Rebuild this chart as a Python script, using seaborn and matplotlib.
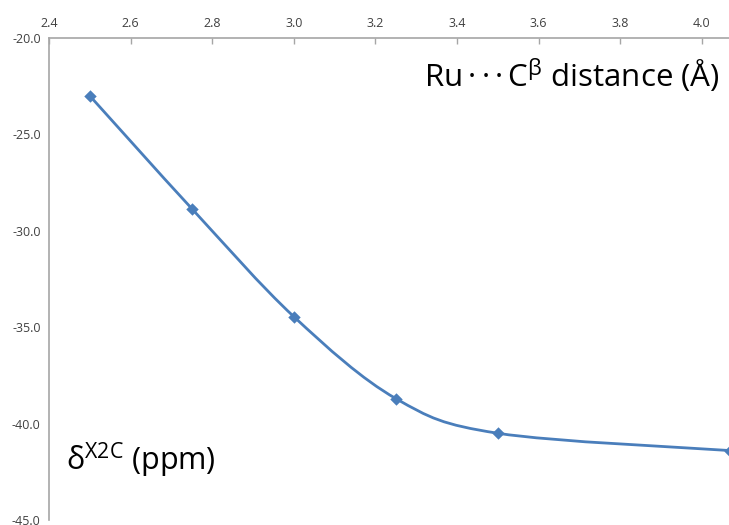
import numpy as np
import matplotlib
matplotlib.use("Agg")
import matplotlib.pyplot as plt
from matplotlib.path import Path
from matplotlib.patches import PathPatch
import seaborn as sns

# distance Ru...C(beta) in Angstrom and the shift in ppm
distance = [2.5, 2.75, 3.0, 3.25, 3.5, 4.07]
shift = [-23.0, -28.85, -34.45, -38.7, -40.5, -41.4]
x_ticks = [2.4, 2.6, 2.8, 3.0, 3.2, 3.4, 3.6, 3.8, 4.0]
y_ticks = [-20.0, -25.0, -30.0, -35.0, -40.0, -45.0]

blue = "#4a7ebb"
axis_grey = "#a6a6a6"
label_grey = "#404040"

sns.set_style("white")
plt.rcParams["font.family"] = ["Open Sans", "DejaVu Sans"]
plt.rcParams["mathtext.fontset"] = "custom"
plt.rcParams["mathtext.rm"] = "Open Sans"

fig = plt.figure(figsize=(7.29, 5.25), dpi=100)
ax = fig.add_axes([49 / 729, 1 - 520 / 525, 680 / 729, (520 - 38) / 525])


# smooth line like the excel "smoothed line" option (catmull-rom -> bezier)
def smooth_path(xs, ys):
    pts = np.column_stack([xs, ys])
    verts = [pts[0]]
    codes = [Path.MOVETO]
    n = len(pts)
    for i in range(n - 1):
        p0 = pts[i - 1] if i > 0 else pts[i]
        p1 = pts[i]
        p2 = pts[i + 1]
        p3 = pts[i + 2] if i + 2 < n else pts[i + 1]
        verts += [p1 + (p2 - p0) / 6, p2 - (p3 - p1) / 6, p2]
        codes += [Path.CURVE4] * 3
    return Path(verts, codes)


ax.add_patch(PathPatch(smooth_path(distance, shift), facecolor="none",
                       edgecolor=blue, lw=2.0, clip_on=True))
sns.scatterplot(x=distance, y=shift, marker="D", s=40, color=blue,
                edgecolor=blue, linewidth=0, ax=ax, zorder=3, clip_on=False)

ax.set_xlim(2.4, 2.4 + 680 / 408)
ax.set_ylim(-45, -20)
ax.xaxis.tick_top()
ax.set_xticks(x_ticks)
ax.set_yticks(y_ticks)
ax.set_xticklabels(["{:.1f}".format(v) for v in x_ticks])
ax.set_yticklabels(["{:.1f}".format(v) for v in y_ticks])
ax.tick_params(axis="x", direction="in", length=4, width=1, color=axis_grey,
               labelsize=9, labelcolor=label_grey, pad=6)
ax.tick_params(axis="y", direction="out", length=4, width=1, color=axis_grey,
               labelsize=9, labelcolor=label_grey, pad=2)
for side in ["right", "bottom"]:
    ax.spines[side].set_visible(False)
for side in ["left", "top"]:
    ax.spines[side].set_color(axis_grey)
    ax.spines[side].set_linewidth(1.2)
ax.set_xlabel("")
ax.set_ylabel("")

fig.text(720 / 729, 1 - 76 / 525,
         "Ru\u2009\u00b7\u2009\u00b7\u2009\u00b7\u2009C$\\mathregular{^{\u03b2}}$ distance (\u00c5)",
         ha="right", va="center", fontsize=22.5, color="black")
fig.text(66 / 729, 1 - 460 / 525,
         "\u03b4$\\mathregular{^{X2C}}$ (ppm)",
         ha="left", va="center", fontsize=22, color="black")

fig.savefig("out.png", dpi=100)
